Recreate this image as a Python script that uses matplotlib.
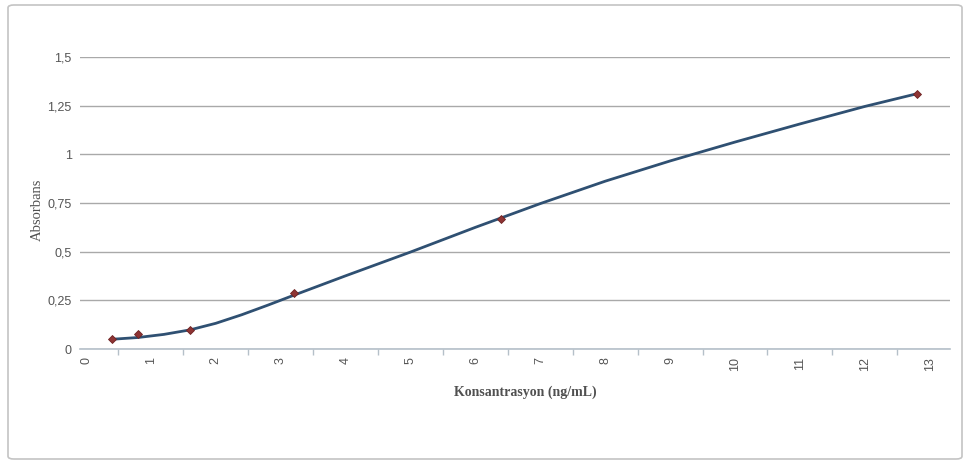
import matplotlib
matplotlib.use("Agg")
import matplotlib.pyplot as plt
from matplotlib.patches import FancyBboxPatch

# Measured standards
conc = [0.4, 0.8, 1.6, 3.2, 6.4, 12.8]
absorb = [0.050, 0.077, 0.097, 0.288, 0.669, 1.311]

# Fitted trend curve
curve_x = [0.4, 0.8, 1.2, 1.6, 2.0, 2.4, 2.8, 3.2, 4.0, 5.0, 6.0, 7.0,
           8.0, 9.0, 10.0, 11.0, 12.0, 12.8]
curve_y = [0.050, 0.059, 0.075, 0.098, 0.132, 0.176, 0.225, 0.276, 0.376,
           0.498, 0.625, 0.747, 0.862, 0.966, 1.063, 1.156, 1.246, 1.311]

y_ticks = [0, 0.25, 0.5, 0.75, 1, 1.25, 1.5]
y_labels = ["0", "0,25", "0,5", "0,75", "1", "1,25", "1,5"]
x_ticks = list(range(0, 14))
x_labels = [str(v) for v in x_ticks]

W, H = 963, 462
fig = plt.figure(figsize=(W / 100, H / 100), dpi=100)
fig.patch.set_facecolor("white")

# outer rounded frame
frame = FancyBboxPatch((8 / W, 3 / H), (962 - 8) / W, (457 - 3) / H,
                       boxstyle="round,pad=0,rounding_size=0.006",
                       transform=fig.transFigure, facecolor="none",
                       edgecolor="#c4c4c4", linewidth=1.2, zorder=-5)
fig.patches.append(frame)

left, right = 80 / W, 950 / W
bottom, top = (H - 349) / H, (H - 57) / H
ax = fig.add_axes([left, bottom, right - left, top - bottom])
ax.set_facecolor("none")

x0_px, px_per_unit = 86, 64.9
ax.set_xlim((80 - x0_px) / px_per_unit, (950 - x0_px) / px_per_unit)
ax.set_ylim(0, 1.5)

for s in ["top", "right", "left"]:
    ax.spines[s].set_visible(False)
ax.spines["bottom"].set_color("#b5c0c9")
ax.spines["bottom"].set_linewidth(1.2)

ax.set_yticks(y_ticks)
ax.set_yticklabels(y_labels)
ax.tick_params(axis="y", length=0, pad=6, labelsize=9, labelcolor="#555555")
ax.yaxis.grid(True, color="#a9a9a9", linewidth=1.0)
ax.set_axisbelow(True)

ax.set_xticks(x_ticks)
ax.set_xticklabels(x_labels, rotation=90, fontsize=9, color="#555555")
ax.tick_params(axis="x", length=0, pad=6)
ax.set_xticks([v + 0.5 for v in x_ticks[:-1]], minor=True)
ax.tick_params(axis="x", which="minor", length=4, width=1, color="#b5c0c9")

for lab in ax.get_xticklabels() + ax.get_yticklabels():
    lab.set_family(["Liberation Sans", "DejaVu Sans"])

ax.plot(curve_x, curve_y, color="#2f5072", linewidth=2.0,
        solid_capstyle="round", solid_joinstyle="round", zorder=3,
        clip_on=False)
ax.plot(conc, absorb, linestyle="none", marker="D", markersize=4.2,
        markerfacecolor="#8e3434", markeredgecolor="#6e2222",
        markeredgewidth=0.6, zorder=4, clip_on=False)

fig.text(37 / W, 1 - 210 / H, "Absorbans", rotation=90, ha="center",
         va="center", fontsize=10.5, color="#505050",
         family=["Liberation Serif", "DejaVu Serif"])
fig.text(525 / W, 1 - 392 / H, "Konsantrasyon (ng/mL)", ha="center",
         va="center", fontsize=10, color="#505050", fontweight="bold",
         family=["Liberation Serif", "DejaVu Serif"])

fig.savefig("out.png", dpi=100)
